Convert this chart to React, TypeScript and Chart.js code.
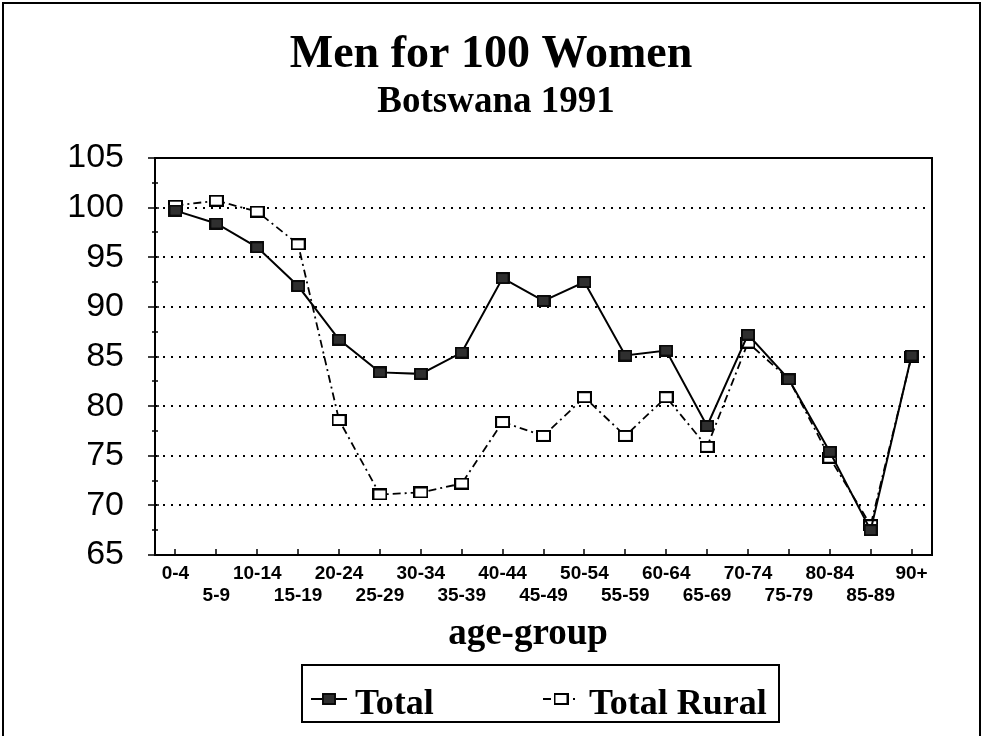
import React, { useEffect, useRef } from 'react';
import { Chart, registerables } from 'chart.js';

Chart.register(...registerables);

const categories = ['0-4', '5-9', '10-14', '15-19', '20-24', '25-29', '30-34', '35-39', '40-44', '45-49', '50-54', '55-59', '60-64', '65-69', '70-74', '75-79', '80-84', '85-89', '90+'];
const totalValues = [99.7, 98.4, 96.0, 92.1, 86.7, 83.4, 83.25, 85.4, 92.9, 90.6, 92.5, 85.1, 85.6, 78.0, 87.2, 82.7, 75.4, 67.5, 85.1];
const ruralValues = [100.2, 100.7, 99.6, 96.3, 78.6, 71.1, 71.3, 72.2, 78.4, 77.0, 80.9, 77.0, 80.9, 75.9, 86.4, 82.7, 74.8, 68.0, 85.0];
const yTickValues = [65, 70, 75, 80, 85, 90, 95, 100, 105];
const seriesNames = ['Total', 'Total Rural'];
const titleText = 'Men for 100 Women';
const subtitleText = 'Botswana 1991';
const xAxisTitle = 'age-group';

const SERIF = '"Liberation Serif", "Times New Roman", serif';
const SANS = '"Liberation Sans", Arial, sans-serif';

function makeMarker(filled: boolean): HTMLCanvasElement {
  const c = document.createElement('canvas');
  const w = filled ? 14 : 15;
  const h = filled ? 12 : 12;
  c.width = w;
  c.height = h;
  const g = c.getContext('2d')!;
  g.fillStyle = filled ? '#2f2f2f' : '#ffffff';
  g.fillRect(0, 0, w, h);
  g.strokeStyle = '#000';
  g.lineWidth = filled ? 1.5 : 2;
  g.strokeRect(1, 1, w - 2, h - 2);
  return c;
}

export default function App() {
  const ref = useRef<HTMLCanvasElement | null>(null);

  useEffect(() => {
    document.body.style.margin = '0';
    const canvas = ref.current;
    if (!canvas) return;
    const filledMarker = makeMarker(true);
    const hollowMarker = makeMarker(false);
    const markers = [filledMarker, hollowMarker];
    const dashes = [[], [8, 4, 2, 4]];

    const decor = {
      id: 'decor',
      beforeDatasetsDraw(chart: any) {
        const { ctx, chartArea: a, scales } = chart;
        const x = scales.x;
        const y = scales.y;
        ctx.save();
        ctx.strokeStyle = '#000';
        // dotted grid lines
        ctx.lineWidth = 2;
        ctx.setLineDash([2, 6]);
        for (const v of yTickValues) {
          if (v === y.min || v === y.max) continue;
          const py = Math.round(y.getPixelForValue(v));
          ctx.beginPath();
          ctx.moveTo(a.left, py);
          ctx.lineTo(a.right, py);
          ctx.stroke();
        }
        ctx.setLineDash([]);
        // frame
        ctx.lineWidth = 2;
        ctx.strokeRect(a.left, a.top, a.right - a.left, a.bottom - a.top);
        // y tick marks
        ctx.lineWidth = 1.5;
        for (let v = y.min; v <= y.max + 0.001; v += 2.5) {
          const py = Math.round(y.getPixelForValue(v));
          const major = Math.abs(v % 5) < 0.001;
          ctx.beginPath();
          ctx.moveTo(a.left - (major ? 7 : 3), py);
          ctx.lineTo(a.left + (major ? 4 : 3), py);
          ctx.stroke();
        }
        // x tick marks
        for (let i = 0; i < categories.length; i++) {
          const px = Math.round(x.getPixelForValue(i));
          ctx.beginPath();
          ctx.moveTo(px, a.bottom);
          ctx.lineTo(px, a.bottom - 6);
          ctx.stroke();
        }
        ctx.restore();
      },
      afterDraw(chart: any) {
        const { ctx, chartArea: a } = chart;
        ctx.save();
        ctx.fillStyle = '#000';
        ctx.strokeStyle = '#000';
        // outer border
        ctx.lineWidth = 2;
        ctx.beginPath();
        ctx.moveTo(3, 740);
        ctx.lineTo(3, 3);
        ctx.lineTo(980, 3);
        ctx.lineTo(980, 740);
        ctx.stroke();
        // titles
        ctx.textAlign = 'center';
        ctx.textBaseline = 'alphabetic';
        ctx.font = `bold 46px ${SERIF}`;
        ctx.fillText(titleText, 491, 67);
        ctx.font = `bold 37px ${SERIF}`;
        ctx.fillText(subtitleText, 496, 112);
        // x axis title
        ctx.font = `bold 37px ${SERIF}`;
        ctx.fillText(xAxisTitle, 528, 644);
        // legend
        ctx.lineWidth = 2;
        ctx.strokeRect(302, 665, 477, 57);
        ctx.textAlign = 'left';
        ctx.font = `bold 36px ${SERIF}`;
        const entries = [
          { lineX: 311, textX: 355 },
          { lineX: 543, textX: 589 },
        ];
        chart.data.datasets.forEach((ds: any, i: number) => {
          const e = entries[i];
          const ly = 699;
          ctx.lineWidth = 2;
          ctx.setLineDash(dashes[i]);
          ctx.beginPath();
          ctx.moveTo(e.lineX, ly);
          ctx.lineTo(e.lineX + 36, ly);
          ctx.stroke();
          ctx.setLineDash([]);
          const m = markers[i];
          ctx.drawImage(m, e.lineX + 18 - m.width / 2, ly - m.height / 2);
          ctx.fillText(ds.label, e.textX, 714);
        });
        ctx.restore();
      },
    };

    const chart = new Chart(canvas, {
      type: 'line',
      data: {
        labels: categories,
        datasets: [
          {
            label: seriesNames[0],
            data: totalValues,
            borderColor: '#000',
            borderWidth: 2,
            pointStyle: filledMarker as any,
            pointRadius: 7,
            tension: 0,
            fill: false,
          },
          {
            label: seriesNames[1],
            data: ruralValues,
            borderColor: '#000',
            borderWidth: 1.8,
            borderDash: [8, 4, 2, 4],
            pointStyle: hollowMarker as any,
            pointRadius: 7,
            tension: 0,
            fill: false,
          },
        ],
      },
      options: {
        responsive: false,
        animation: false,
        layout: { padding: { top: 158, right: 51, left: 0, bottom: 0 } },
        plugins: {
          legend: { display: false },
          title: { display: false },
          tooltip: { enabled: false },
        },
        scales: {
          x: {
            type: 'category',
            offset: true,
            grid: { display: false, drawTicks: false },
            border: { display: false },
            afterFit: (s: any) => { s.height = 181; },
            ticks: {
              autoSkip: false,
              maxRotation: 0,
              minRotation: 0,
              padding: 8,
              color: '#000',
              font: { family: SANS, size: 19, weight: 'bold', lineHeight: 1.15 },
              callback: (_v: any, i: number) => (i % 2 === 0 ? categories[i] : ['', categories[i]]),
            },
          },
          y: {
            min: 65,
            max: 105,
            grid: { display: false, drawTicks: false },
            border: { display: false },
            afterFit: (s: any) => { s.width = 155; },
            ticks: {
              stepSize: 5,
              padding: 31,
              color: '#000',
              font: { family: SANS, size: 34 },
              callback: (v: any) => String(v),
            },
          },
        },
      },
      plugins: [decor],
    });

    return () => chart.destroy();
  }, []);

  return (
    <div style={{ width: 983, height: 736, background: '#fff' }}>
      <canvas ref={ref} width={983} height={736} style={{ display: 'block' }} />
    </div>
  );
}
